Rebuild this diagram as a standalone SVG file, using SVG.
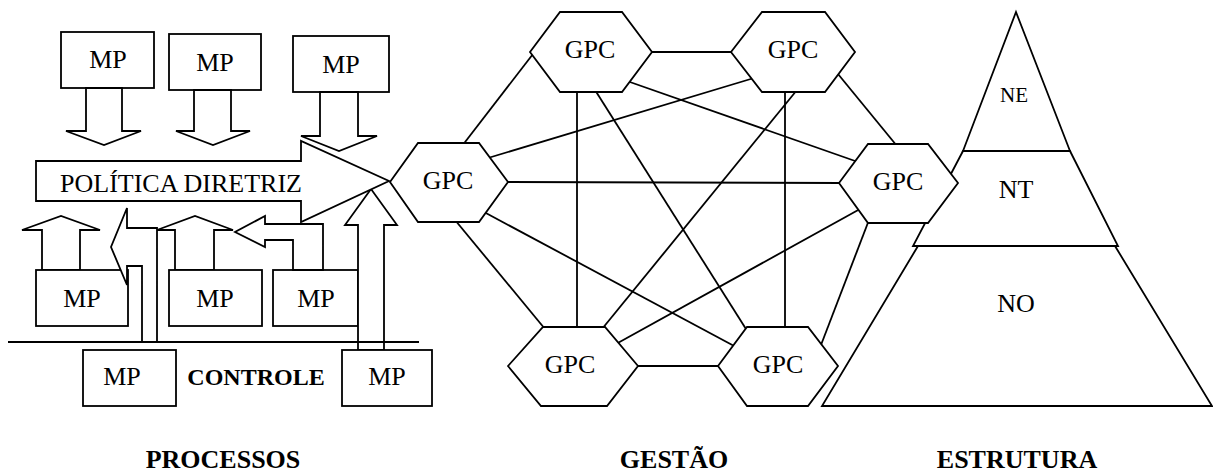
<svg xmlns="http://www.w3.org/2000/svg" width="1213" height="472" viewBox="0 0 1213 472">
<rect width="1213" height="472" fill="#fff"/>
<g fill="#fff" stroke="#000" stroke-width="1.8">
<g id="pyramid">
<polygon id="ne" points="1016,12 1070,151 963,151"/>
<polygon id="nt" points="963,151 1070,151 1118,246 913,246"/>
<polygon id="no" points="918,246 1115,246 1212,406 822,406"/>
</g>
<g id="connectors" fill="none">
<line x1="652" y1="52" x2="731" y2="52"/>
<line x1="462" y1="146" x2="533" y2="54"/>
<line x1="488" y1="158" x2="754" y2="78"/>
<line x1="627" y1="81" x2="858" y2="162"/>
<line x1="577" y1="90" x2="577" y2="329"/>
<line x1="595" y1="90" x2="746" y2="329"/>
<line x1="506" y1="182" x2="841" y2="183"/>
<line x1="785" y1="90" x2="785" y2="329"/>
<line x1="797" y1="90" x2="602" y2="329"/>
<line x1="484" y1="212" x2="736" y2="347"/>
<line x1="455" y1="220" x2="545" y2="329"/>
<line x1="838" y1="74" x2="897" y2="146"/>
<line x1="860" y1="209" x2="616" y2="344"/>
<line x1="869" y1="220" x2="821" y2="345"/>
<line x1="636" y1="366" x2="720" y2="366"/>
</g>
<g id="gpc1"><polygon points="530,52 560,12 622,12 652,52 622,92 560,92"/></g>
<g id="gpc2"><polygon points="731,52 762,12 825,12 855,52 825,92 762,92"/></g>
<g id="gpc3"><polygon points="390,182 418,143 479,143 508,182 479,222 418,222"/></g>
<g id="gpc4"><polygon points="839,183 868,144 928,144 958,183 928,223 868,223"/></g>
<g id="gpc5"><polygon points="508,366 543,327 605,327 638,366 607,406 541,406"/></g>
<g id="gpc6"><polygon points="718,366 747,327 808,327 838,366 808,406 747,406"/></g>
<g id="mp-top1"><rect x="61" y="32" width="93" height="56"/></g>
<g id="mp-top2"><rect x="169" y="34" width="92" height="56"/></g>
<g id="mp-top3"><rect x="293" y="36" width="96" height="56"/></g>
<g id="arrow-down1"><polygon points="86,88 122,88 122,131 141,131 104,145 66,131 86,131"/></g>
<g id="arrow-down2"><polygon points="194,90 231,90 231,131 250,131 213,145 176,131 194,131"/></g>
<g id="arrow-down3"><polygon points="320,92 358,92 358,136 377,136 339,151 301,136 320,136"/></g>
<g id="arrow-up1"><polygon points="42,270 42,230 22,230 61,216 100,230 80,230 80,270"/></g>
<g id="arrow-up2"><polygon points="175,270 175,230 157,230 195,216 233,230 214,230 214,270"/></g>
<g id="mp-mid1"><rect x="36" y="270" width="92" height="56"/></g>
<g id="arrow-bent"><polygon points="157,342 157,228 127,228 127,208 111,247 127,285 127,266 142,266 142,342"/></g>
<g id="mp-mid2"><rect x="169" y="270" width="93" height="56"/></g>
<g id="mp-mid3"><rect x="273" y="270" width="85" height="56"/></g>
<g id="arrow-left"><polygon points="323,270 323,224 265,224 265,216 235,232 265,247 265,240 293,240 293,270"/></g>
<g id="arrow-up-big"><polygon points="358,350 358,225 345,225 371,189 397,225 384,225 384,350"/></g>
<g id="politica"><polygon points="36,161 301,161 301,141 389,181 301,222 301,201 36,201"/></g>
<line id="controle-line" x1="8" y1="342" x2="419" y2="342"/>
<g id="mp-bot1"><rect x="83" y="350" width="93" height="56"/></g>
<g id="mp-bot2"><rect x="342" y="350" width="90" height="56"/></g>
</g>
<g id="labels" font-family="Liberation Serif" font-size="26" text-anchor="middle" fill="#000">
<text x="1014" y="102" font-size="21">NE</text>
<text x="1016" y="198">NT</text>
<text x="1016" y="312">NO</text>
<text x="590" y="58">GPC</text>
<text x="793" y="58">GPC</text>
<text x="448" y="189">GPC</text>
<text x="898" y="190">GPC</text>
<text x="570" y="373">GPC</text>
<text x="778" y="373">GPC</text>
<text x="108" y="68">MP</text>
<text x="215" y="71">MP</text>
<text x="341" y="73">MP</text>
<text x="82" y="307">MP</text>
<text x="215" y="307">MP</text>
<text x="316" y="307">MP</text>
<text x="181" y="192">POL&#205;TICA DIRETRIZ</text>
<text x="122" y="385">MP</text>
<text x="387" y="385">MP</text>
<text x="256" y="385" font-size="24" font-weight="bold">CONTROLE</text>
<text x="223" y="468" font-weight="bold">PROCESSOS</text>
<text x="674" y="468" font-weight="bold">GEST&#195;O</text>
<text x="1017" y="468" font-weight="bold">ESTRUTURA</text>
</g>
</svg>
